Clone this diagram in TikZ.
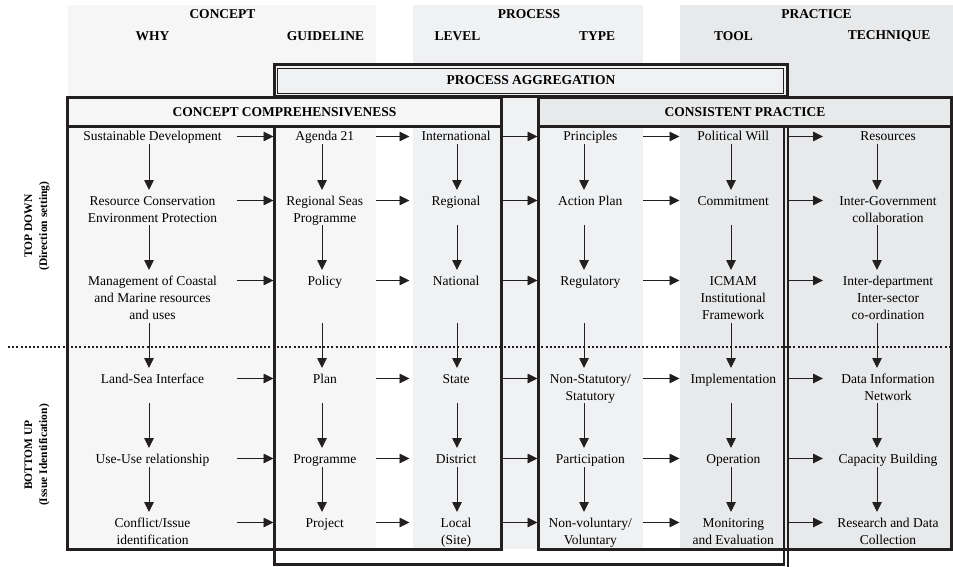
\documentclass[tikz,border=0pt]{standalone}
\usepackage{fontspec}
\setmainfont{Liberation Serif}
\usetikzlibrary{arrows.meta}

\definecolor{conceptfill}{HTML}{F6F6F6}
\definecolor{processfill}{HTML}{F0F1F3}
\definecolor{practicefill}{HTML}{E8E9EB}
\definecolor{boxline}{HTML}{231F20}

% table cell: fixed height and width, first baseline 15pt below the top edge
\newcommand{\cellbox}[3]{\parbox[t][#1][t]{#2}{\centering\rule{0pt}{15pt}#3}}

\begin{document}
\begin{tikzpicture}[x=1pt,y=-1pt,
  every node/.style={inner sep=0pt, outer sep=0pt, font=\fontsize{13.5}{17}\selectfont},
  head/.style={font=\fontsize{13.5}{17}\selectfont\bfseries},
  side/.style={font=\fontsize{11.5}{15}\selectfont\bfseries, align=center, rotate=90},
  cell/.style={anchor=north},
  frame/.style={draw=boxline, line width=3pt},
  thinframe/.style={draw=boxline, line width=1.1pt},
  flow/.style={draw=boxline, line width=0.9pt, -{Triangle[length=10pt,width=9.5pt]}},
  divider/.style={draw=boxline, line width=1.6pt, dash pattern=on 2pt off 2.2pt},
]
\useasboundingbox (0,0) rectangle (953,567);

% column bands
\fill[conceptfill]  (68,5)  rectangle (376,549);
\fill[processfill]  (413,5) rectangle (643,549);
\fill[practicefill] (680,5) rectangle (953,549);
\fill[processfill]  (274,65) rectangle (787.7,97);

% band headings
\node[head] (hconcept)  at (222.5,14) {CONCEPT};
\node[head] (hprocess)  at (529,14)   {PROCESS};
\node[head] (hpractice) at (816.5,14) {PRACTICE};
\node[head] (hwhy)      at (152.5,36) {WHY};
\node[head] (hguide)    at (325.5,36) {GUIDELINE};
\node[head] (hlevel)    at (457.5,36) {LEVEL};
\node[head] (htype)     at (597,36)   {TYPE};
\node[head] (htool)     at (733.5,36) {TOOL};
\node[head] (htech)     at (889,36)   {TECHNIQUE};

% box headers
\fill[conceptfill]  (67.5,97.5) rectangle (501,127);
\fill[practicefill] (538.3,97.5) rectangle (951.5,127);
\node[head] (hagg)  at (531,80)  {PROCESS AGGREGATION};
\node[head] (hcomp) at (284.5,112) {CONCEPT COMPREHENSIVENESS};
\node[head] (hcons) at (745,112) {CONSISTENT PRACTICE};

% top-down / bottom-up divider
\coordinate (divL) at (8,347);
\coordinate (divR) at (953,347);
\draw[divider] (divL) -- (divR);

% side labels
\node[side] (topdown)  at (37,226) {TOP DOWN\\(Direction setting)};
\node[side] (bottomup) at (37,455) {BOTTOM UP\\(Issue Identification)};

% cells: row 1
\node[cell] (r1-c1) at (152.5,126)  {\cellbox{18pt}{169pt}{Sustainable Development}};
\node[cell] (r1-c2) at (324.75,126) {\cellbox{18pt}{102.5pt}{Agenda 21}};
\node[cell] (r1-c3) at (456,126)    {\cellbox{18pt}{93pt}{International}};
\node[cell] (r1-c4) at (590.25,126) {\cellbox{18pt}{105.5pt}{Principles}};
\node[cell] (r1-c5) at (733.25,126) {\cellbox{18pt}{107.5pt}{Political Will}};
\node[cell] (r1-c6) at (888,126)    {\cellbox{18pt}{130pt}{Resources}};
% row 2
\node[cell] (r2-c1) at (152.5,190)  {\cellbox{35pt}{169pt}{Resource Conservation\\Environment Protection}};
\node[cell] (r2-c2) at (324.75,190) {\cellbox{35pt}{102.5pt}{Regional Seas\\Programme}};
\node[cell] (r2-c3) at (456,190)    {\cellbox{35pt}{93pt}{Regional}};
\node[cell] (r2-c4) at (590.25,190) {\cellbox{35pt}{105.5pt}{Action Plan}};
\node[cell] (r2-c5) at (733.25,190) {\cellbox{35pt}{107.5pt}{Commitment}};
\node[cell] (r2-c6) at (888,190)    {\cellbox{35pt}{130pt}{Inter-Government\\collaboration}};
% row 3
\node[cell] (r3-c1) at (152.5,270)  {\cellbox{53pt}{169pt}{Management of Coastal\\and Marine resources\\and uses}};
\node[cell] (r3-c2) at (324.75,270) {\cellbox{53pt}{102.5pt}{Policy}};
\node[cell] (r3-c3) at (456,270)    {\cellbox{53pt}{93pt}{National}};
\node[cell] (r3-c4) at (590.25,270) {\cellbox{53pt}{105.5pt}{Regulatory}};
\node[cell] (r3-c5) at (733.25,270) {\cellbox{53pt}{107.5pt}{ICMAM\\Institutional\\Framework}};
\node[cell] (r3-c6) at (888,270)    {\cellbox{53pt}{130pt}{Inter-department\\Inter-sector\\co-ordination}};
% row 4
\node[cell] (r4-c1) at (152.5,368)  {\cellbox{35pt}{169pt}{Land-Sea Interface}};
\node[cell] (r4-c2) at (324.75,368) {\cellbox{35pt}{102.5pt}{Plan}};
\node[cell] (r4-c3) at (456,368)    {\cellbox{35pt}{93pt}{State}};
\node[cell] (r4-c4) at (590.25,368) {\cellbox{35pt}{105.5pt}{Non-Statutory/\\Statutory}};
\node[cell] (r4-c5) at (733.25,368) {\cellbox{35pt}{107.5pt}{Implementation}};
\node[cell] (r4-c6) at (888,368)    {\cellbox{35pt}{130pt}{Data Information\\Network}};
% row 5
\node[cell] (r5-c1) at (152.5,448)  {\cellbox{19pt}{169pt}{Use-Use relationship}};
\node[cell] (r5-c2) at (324.75,448) {\cellbox{19pt}{102.5pt}{Programme}};
\node[cell] (r5-c3) at (456,448)    {\cellbox{19pt}{93pt}{District}};
\node[cell] (r5-c4) at (590.25,448) {\cellbox{19pt}{105.5pt}{Participation}};
\node[cell] (r5-c5) at (733.25,448) {\cellbox{19pt}{107.5pt}{Operation}};
\node[cell] (r5-c6) at (888,448)    {\cellbox{19pt}{130pt}{Capacity Building}};
% row 6
\node[cell] (r6-c1) at (152.5,512)  {\cellbox{37pt}{169pt}{Conflict/Issue\\identification}};
\node[cell] (r6-c2) at (324.75,512) {\cellbox{37pt}{102.5pt}{Project}};
\node[cell] (r6-c3) at (456,512)    {\cellbox{37pt}{93pt}{Local\\(Site)}};
\node[cell] (r6-c4) at (590.25,512) {\cellbox{37pt}{105.5pt}{Non-voluntary/\\Voluntary}};
\node[cell] (r6-c5) at (733.25,512) {\cellbox{37pt}{107.5pt}{Monitoring\\and Evaluation}};
\node[cell] (r6-c6) at (888,512)    {\cellbox{37pt}{130pt}{Research and Data\\Collection}};

% arrows along each row
\foreach \r in {1,...,6}{
  \foreach \a/\b in {1/2,2/3,3/4,4/5,5/6}{
    \draw[flow] ([yshift=4.5pt]r\r-c\a.base east) -- ([yshift=4.5pt]r\r-c\b.base west);
  }
}
% arrows down each column
\foreach \c/\dx in {1/-3.5,2/-2.75,3/1,4/-6.25,5/-2.25,6/-11}{
  \foreach \a/\b in {1/2,2/3,3/4,4/5,5/6}{
    \draw[flow] ([xshift=\dx pt]r\a-c\c.south) -- ([xshift=\dx pt]r\b-c\c.north);
  }
}

% process aggregation frame: double-ruled header, open body below the box headers
\draw[frame] (274,65) rectangle (787.7,97);
\draw[thinframe] (277.5,68.5) rectangle (783.8,93.5);
\draw[frame] (274,127) -- (274,564.5) -- (783,564.5);
\draw[draw=boxline, line width=1.7pt] (783.8,127) -- (783.8,565.8);
\draw[draw=boxline, line width=2.3pt] (788,127) -- (788,567);

% concept comprehensiveness frame
\draw[frame] (67.5,97.5) rectangle (501,549);
\draw[frame] (67.5,127) -- (501,127);

% consistent practice frame
\draw[frame] (538.3,97.5) rectangle (951.5,549);
\draw[frame] (538.3,127) -- (951.5,127);
\end{tikzpicture}
\end{document}
